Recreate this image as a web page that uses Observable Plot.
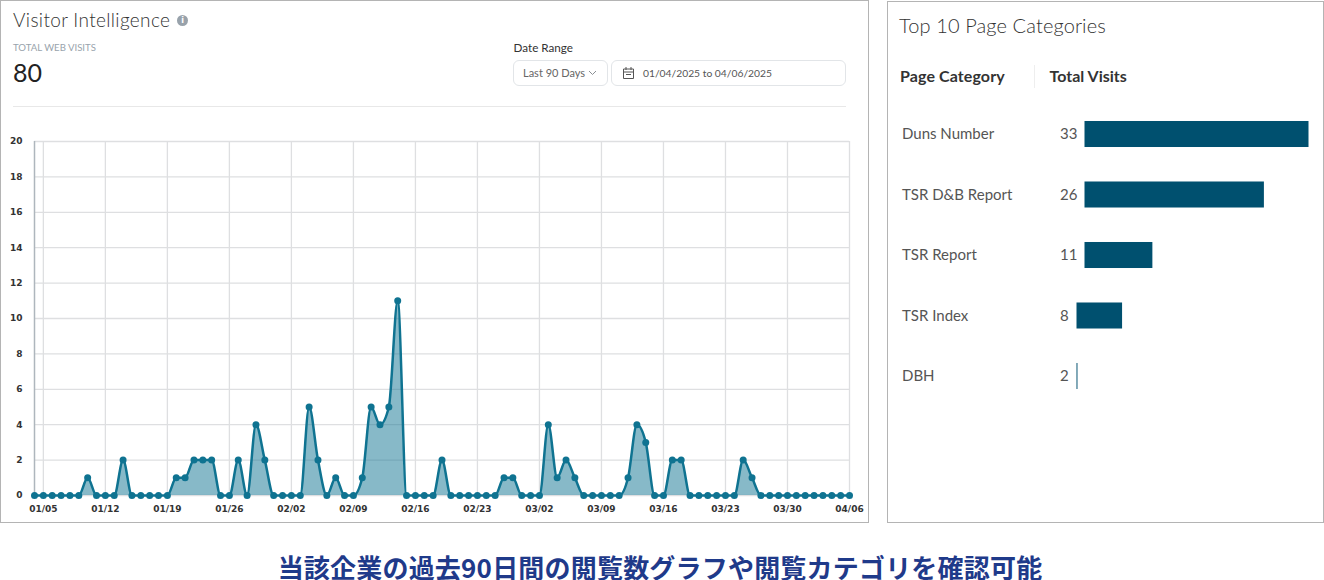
<!DOCTYPE html>
<html lang="ja">
<head>
<meta charset="utf-8">
<script src="https://cdn.jsdelivr.net/npm/d3@7"></script>
<script src="https://cdn.jsdelivr.net/npm/@observablehq/plot@0.6"></script>
<style>
html,body{margin:0;padding:0;background:#fff;width:1324px;height:580px;overflow:hidden;font-family:Lato,sans-serif}
.abs{position:absolute;white-space:nowrap;line-height:1}
.panel{position:absolute;box-sizing:border-box;border:1px solid #b4b4b4;background:#fff}
.box{position:absolute;box-sizing:border-box;border:1px solid #e2e5e8;border-radius:6px;background:#fff}
svg{background:transparent}
#visits,#cats{position:absolute}
</style>
</head>
<body>
<div class="panel" style="left:0;top:0;width:869px;height:523px"></div>
<div class="panel" style="left:887px;top:1px;width:437px;height:522px"></div>

<div class="abs" id="t1" style="left:13px;top:10px;font-size:19px;font-weight:300;letter-spacing:.35px;color:#333">Visitor Intelligence</div>
<div class="abs" style="left:177px;top:15px;width:11px;height:11px;border-radius:50%;background:#98a2ab;color:#fff;font:bold 8px/11px 'DejaVu Sans';text-align:center">i</div>
<div class="abs" style="left:13px;top:43px;font-size:9.6px;color:#98a3ac">TOTAL WEB VISITS</div>
<div class="abs" style="left:13px;top:60px;font-size:25px;color:#222">80</div>
<div class="abs" style="left:13px;top:106px;width:833px;height:1px;background:#e8e8e8"></div>

<div class="abs" style="left:513.5px;top:42px;font-size:11.7px;color:#333">Date Range</div>
<div class="box" style="left:513px;top:60px;width:95px;height:26px"></div>
<div class="abs" style="left:523px;top:67px;font-size:11px;color:#666">Last 90 Days</div>
<svg class="abs" style="left:588px;top:70px" width="9" height="6"><path d="M1 1l3.5 3.5L8 1" fill="none" stroke="#8a8f94"/></svg>
<div class="box" style="left:611px;top:60px;width:235px;height:26px"></div>
<svg class="abs" style="left:622px;top:66px" width="13" height="14"><path d="M1.500 3h10v9.500h-10zM1.500 6h10M4 1v3M9 1v3M4 8.500h5" fill="none" stroke="#555"/></svg>
<div class="abs" style="left:643px;top:68px;font-size:10.3px;color:#555">01/04/2025 to 04/06/2025</div>

<div class="abs" style="left:899px;top:15px;font-size:20px;font-weight:300;letter-spacing:.12px;color:#333">Top 10 Page Categories</div>
<div class="abs" style="left:900px;top:68px;font-size:16px;font-weight:700;letter-spacing:.1px;color:#333">Page Category</div>
<div class="abs" style="left:1034px;top:65px;width:1px;height:23px;background:#eee"></div>
<div class="abs" style="left:1049.500px;top:68px;font-size:16px;font-weight:700;color:#333">Total Visits</div>

<div id="visits" style="left:0;top:130px"></div>
<div id="cats" style="left:887px;top:103px"></div>

<div class="abs" style="left:0;width:1320px;top:554px;text-align:center;font-family:'Noto Sans CJK JP';font-weight:700;font-size:26px;letter-spacing:.2px;color:#1f3a8a">当該企業の過去90日間の閲覧数グラフや閲覧カテゴリを確認可能</div>

<script>
const startDate = "2025-01-04";
const endDate = "2025-04-06";
const dailyVisits = [
  0,0,0,0,0,0,1,0,0,0,2,0,0,0,0,0,
  1,1,2,2,2,0,0,2,0,4,2,0,0,0,0,
  5,2,0,1,0,0,1,5,4,5,11,0,0,0,0,2,0,0,0,0,0,0,1,1,0,0,0,
  4,1,2,1,0,0,0,0,0,1,4,3,0,0,2,2,0,0,0,0,0,0,2,1,0,
  0,0,0,0,0,0,0,0,0,0
];
const xTickLabels = ["01/05","01/12","01/19","01/26","02/02","02/09","02/16","02/23","03/02","03/09","03/16","03/23","03/30","04/06"];
const yTicks = [0,2,4,6,8,10,12,14,16,18,20];

const categories = ["Duns Number","TSR D&B Report","TSR Report","TSR Index","DBH"];
const totalVisits = [33,26,11,8,2];

const days = d3.utcDay.range(new Date(startDate + "T00:00Z"), d3.utcDay.offset(new Date(endDate + "T00:00Z"), 1));
const series = days.map((date, i) => ({date, visits: dailyVisits[i]}));
const xTicks = xTickLabels.map(s => new Date("2025-" + s.replace("/", "-") + "T00:00Z"));
const lineColor = "#0f7391";
const gridColor = "#dedfe1";
const axisFont = {fontFamily: "'DejaVu Sans'", fontSize: 9, fontWeight: "bold", fill: "#333"};

const visitsPlot = Plot.plot({
  width: 868, height: 392,
  marginLeft: 34, marginRight: 19, marginTop: 11, marginBottom: 27,
  style: {background: "transparent", overflow: "visible"},
  x: {type: "utc", domain: [days[0], days[days.length - 1]]},
  y: {domain: [0, 20]},
  marks: [
    Plot.gridX(xTicks, {stroke: gridColor, strokeOpacity: 1, strokeWidth: 1.3}),
    Plot.gridY(yTicks, {stroke: gridColor, strokeOpacity: 1, strokeWidth: 1.3}),
    Plot.ruleX([days[0]], {stroke: "#aeb6bd", strokeWidth: 1.5}),
    Plot.areaY(series, {x: "date", y: "visits", curve: "monotone-x", fill: lineColor, fillOpacity: 0.5}),
    Plot.lineY(series, {x: "date", y: "visits", curve: "monotone-x", stroke: lineColor, strokeWidth: 2.5}),
    Plot.dot(series, {x: "date", y: "visits", r: 3.5, fill: lineColor, stroke: "none"}),
    Plot.axisX({ticks: xTicks, tickFormat: d3.utcFormat("%m/%d"), tickSize: 0, tickPadding: 10, label: null, ...axisFont}),
    Plot.axisY({ticks: yTicks, tickSize: 0, tickPadding: 12, label: null, ...axisFont})
  ]
});
document.getElementById("visits").append(visitsPlot);

const rows = categories.map((category, i) => ({category, visits: totalVisits[i]}));
const barOrigin = 1.87;
const barCap = 32;
const barColor = "#00506f";
const catFont = {fontFamily: "Lato", fontSize: 15, fill: "#555"};
const barOpts = {x1: () => barOrigin, x2: "visits", y: "category", fill: barColor};

const catsPlot = Plot.plot({
  width: 437, height: 304,
  marginLeft: 0, marginRight: 0, marginTop: 0.75, marginBottom: 0.75,
  style: {background: "transparent", overflow: "visible"},
  x: {axis: null, domain: [barOrigin, barCap], range: [189.5, 413.5], clamp: true},
  y: {axis: null, domain: categories, paddingInner: 0.57, paddingOuter: 0.285, round: false},
  marks: [
    Plot.barX(rows.filter(d => d.visits >= 10), {...barOpts, dx: 8}),
    Plot.barX(rows.filter(d => d.visits < 10), barOpts),
    Plot.text(rows, {text: "category", y: "category", frameAnchor: "left", dx: 14.5, textAnchor: "start", ...catFont}),
    Plot.text(rows, {text: d => String(d.visits), y: "category", frameAnchor: "left", dx: 172.5, textAnchor: "start", ...catFont})
  ]
});
document.getElementById("cats").append(catsPlot);
</script>
</body>
</html>
